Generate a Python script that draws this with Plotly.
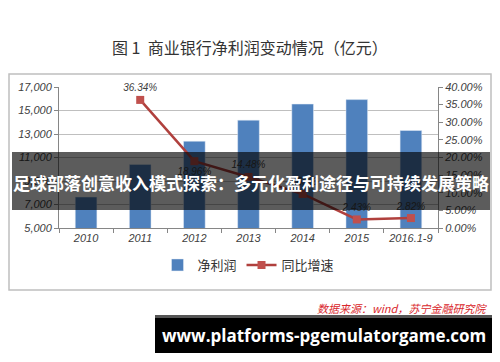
import plotly.graph_objects as go

# ---- data ----
years = ["2010", "2011", "2012", "2013", "2014", "2015", "2016.1-9"]
net_profit = [7637, 10412, 12386, 14180, 15548, 15926, 13300]
growth = [None, 0.3634, 0.1896, 0.1448, 0.0965, 0.0243, 0.0282]
growth_labels = ["", "36.34%", "18.96%", "14.48%", "9.65%", "2.43%", "2.82%"]
label_pos = ["top center", "top center", "bottom center", "top center", "top center", "top center", "top center"]

title_text = "图 1  商业银行净利润变动情况（亿元）"
overlay_text = "足球部落创意收入模式探索：多元化盈利途径与可持续发展策略"
source_text = "数据来源：wind，苏宁金融研究院"
url_text = "www.platforms-pgemulatorgame.com"

W, H = 500, 362
L, R, T, B = 59, 438, 87, 228  # plot area pixels

def px(x):
    return (x - L) / (R - L)

def py(y):
    return (B - y) / (B - T)

tick_font = dict(family="Liberation Sans, Arial", size=11, color="#404040", style="italic")

fig = go.Figure()
fig.add_trace(go.Bar(
    x=years, y=net_profit, name="净利润",
    marker=dict(color="#4F81BD"), yaxis="y",
))
fig.add_trace(go.Scatter(
    x=years, y=growth, name="同比增速", yaxis="y2",
    mode="lines+markers+text",
    line=dict(color="#B0403D", width=2.5),
    marker=dict(symbol="square", size=8, color="#C0504D"),
    text=growth_labels, textposition=label_pos,
    textfont=dict(family="Liberation Sans, Arial", size=10, color="#404040", style="italic"),
    cliponaxis=False,
))

fig.update_layout(
    width=W, height=H,
    margin=dict(l=L, r=W - R, t=T, b=H - B),
    paper_bgcolor="white", plot_bgcolor="white",
    bargap=0.6,
    showlegend=True,
    legend=dict(orientation="h", x=0.5, xanchor="center", y=py(265), yanchor="middle",
                font=dict(family="Noto Sans CJK SC", size=13, color="#333333"),
                itemwidth=30, traceorder="normal"),
    xaxis=dict(type="category", tickson="boundaries", ticks="outside", ticklen=4,
               tickcolor="#868686", showline=True, linecolor="#868686", linewidth=1,
               tickfont=tick_font, showgrid=False),
    yaxis=dict(range=[5000, 17000], tick0=5000, dtick=2000, tickformat=",d", ticks="outside", ticklen=4,
               tickcolor="#868686", showline=True, linecolor="#868686", linewidth=1,
               showgrid=True, gridcolor="#BFBFBF", gridwidth=1, tickfont=tick_font,
               zeroline=False),
    yaxis2=dict(range=[0, 0.40], tick0=0, dtick=0.05, tickformat=".2%", overlaying="y", side="right",
                ticks="outside", ticklen=4, tickcolor="#868686", showline=True,
                linecolor="#868686", linewidth=1, showgrid=False, tickfont=tick_font,
                zeroline=False),
)

shapes = [
    # outer chart border
    dict(type="rect", xref="paper", yref="paper", x0=px(9), x1=px(491), y0=py(290), y1=py(74),
         line=dict(color="#BFBFBF", width=1.5), fillcolor="rgba(0,0,0,0)", layer="below"),
    # dark overlay band
    dict(type="rect", xref="paper", yref="paper", x0=px(12), x1=px(490), y0=py(210), y1=py(152),
         line=dict(width=0), fillcolor="rgba(0,0,0,0.64)", layer="above"),
    # black url box
    dict(type="rect", xref="paper", yref="paper", x0=px(155), x1=px(492), y0=py(353), y1=py(315),
         line=dict(width=0), fillcolor="#000000", layer="above"),
    dict(type="rect", xref="paper", yref="paper", x0=px(155), x1=px(492), y0=py(318), y1=py(315),
         line=dict(width=0), fillcolor="#555555", layer="above"),
]
fig.update_layout(shapes=shapes)

annotations = [
    dict(text=title_text, xref="paper", yref="paper", x=px(250), y=py(47), xanchor="center",
         yanchor="middle", showarrow=False,
         font=dict(family="Noto Sans CJK SC", size=16, color="#333333")),
    dict(text=overlay_text, xref="paper", yref="paper", x=px(251), y=py(182), xanchor="center",
         yanchor="middle", showarrow=False,
         font=dict(family="Noto Sans CJK SC", size=17, color="white", weight="bold")),
    dict(text=source_text, xref="paper", yref="paper", x=px(489), y=py(308), xanchor="right",
         yanchor="middle", showarrow=False,
         font=dict(family="Noto Sans CJK SC", size=11, color="#D9262B", style="italic")),
    dict(text=url_text, xref="paper", yref="paper", x=px(324), y=py(335), xanchor="center",
         yanchor="middle", showarrow=False,
         font=dict(family="Open Sans", size=17, color="white", weight="bold")),
]
fig.update_layout(annotations=annotations)

fig.write_html("out.html")
